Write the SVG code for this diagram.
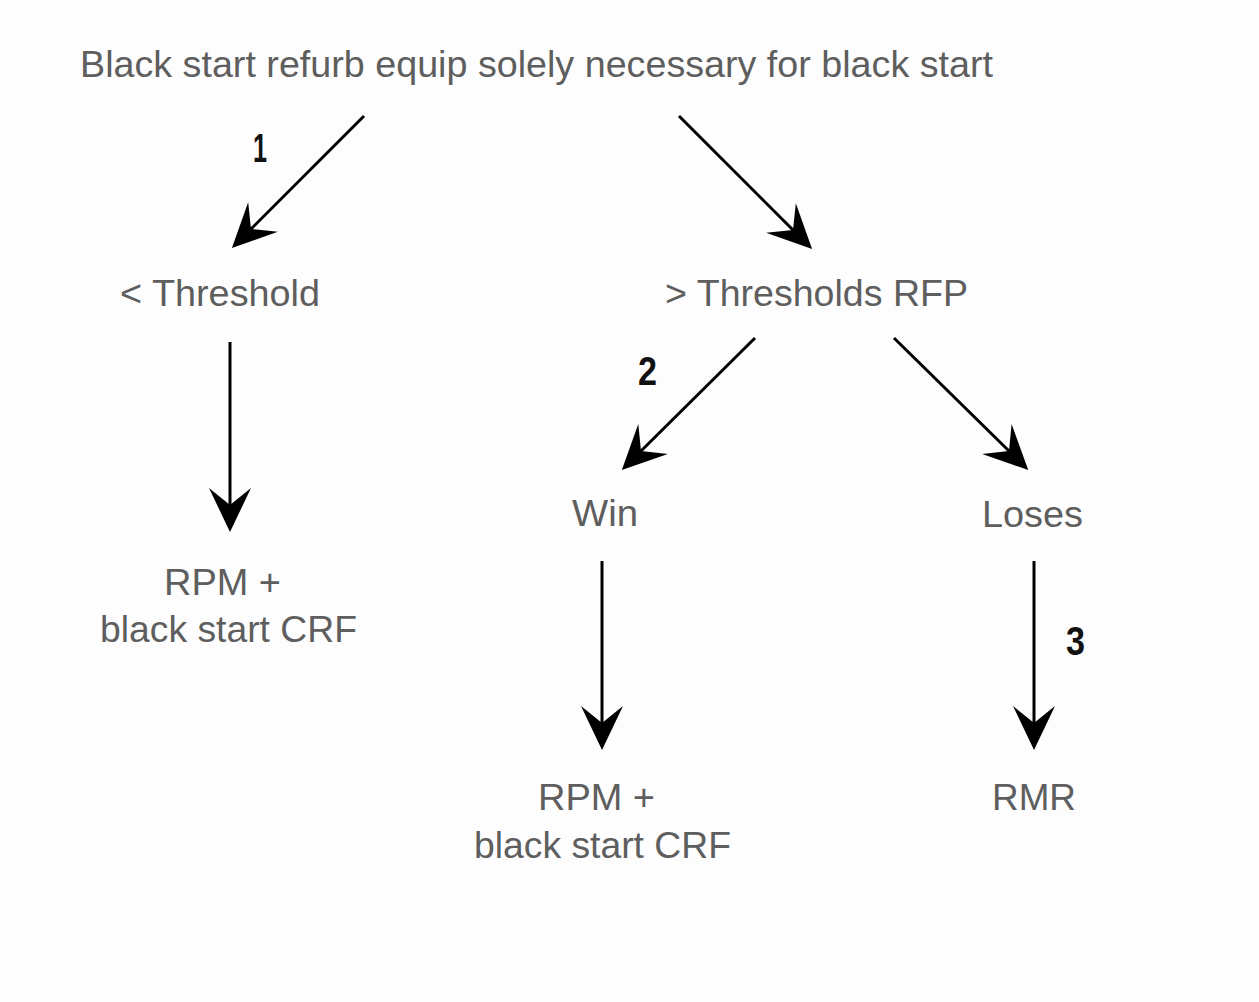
<svg xmlns="http://www.w3.org/2000/svg" width="1259" height="1002" viewBox="0 0 1259 1002">
<style>
.t{font-family:"Liberation Sans",Arial,sans-serif;font-size:37px;fill:#5e5e5e;}
.n{font-family:"Liberation Sans",Arial,sans-serif;font-size:40px;font-weight:bold;fill:#111;}
.c{stroke:#000;stroke-width:3;fill:none;marker-end:url(#ah);}
</style>
<defs>
<marker id="ah" markerUnits="userSpaceOnUse" viewBox="-46 -23 48 46" refX="-27" refY="0" markerWidth="48" markerHeight="46" orient="auto">
<path d="M0,0 L-44,-21 L-27,0 L-44,21 Z" fill="#000"/>
</marker>
</defs>
<rect width="1259" height="1002" fill="#fdfdfd"/>
<g id="connectors">
<line class="c" x1="364" y1="116" x2="251" y2="229"/>
<line class="c" x1="679" y1="116" x2="793" y2="230"/>
<line class="c" x1="230" y1="342" x2="230" y2="505"/>
<line class="c" x1="755" y1="338" x2="641" y2="451"/>
<line class="c" x1="894" y1="338" x2="1009" y2="451"/>
<line class="c" x1="602" y1="561" x2="602" y2="723"/>
<line class="c" x1="1034" y1="561" x2="1034" y2="723"/>
<text class="n" x="253" y="162" textLength="14" lengthAdjust="spacingAndGlyphs">1</text>
<text class="n" x="638" y="385" textLength="19" lengthAdjust="spacingAndGlyphs">2</text>
<text class="n" x="1066" y="655" textLength="19" lengthAdjust="spacingAndGlyphs">3</text>
</g>
<g id="root"><text class="t" x="80" y="77" textLength="913" lengthAdjust="spacingAndGlyphs">Black start refurb equip solely necessary for black start</text></g>
<g id="below-threshold"><text class="t" x="120" y="306" textLength="200" lengthAdjust="spacingAndGlyphs">&lt; Threshold</text></g>
<g id="above-threshold"><text class="t" x="665" y="306" textLength="303" lengthAdjust="spacingAndGlyphs">&gt; Thresholds RFP</text></g>
<g id="win"><text class="t" x="572" y="526" textLength="66" lengthAdjust="spacingAndGlyphs">Win</text></g>
<g id="loses"><text class="t" x="982" y="527" textLength="101" lengthAdjust="spacingAndGlyphs">Loses</text></g>
<g id="rpm-left">
<text class="t" x="164" y="595" textLength="117" lengthAdjust="spacingAndGlyphs">RPM +</text>
<text class="t" x="100" y="642" textLength="257" lengthAdjust="spacingAndGlyphs">black start CRF</text>
</g>
<g id="rpm-win">
<text class="t" x="538" y="810" textLength="117" lengthAdjust="spacingAndGlyphs">RPM +</text>
<text class="t" x="474" y="858" textLength="257" lengthAdjust="spacingAndGlyphs">black start CRF</text>
</g>
<g id="rmr"><text class="t" x="992" y="810" textLength="84" lengthAdjust="spacingAndGlyphs">RMR</text></g>
</svg>
